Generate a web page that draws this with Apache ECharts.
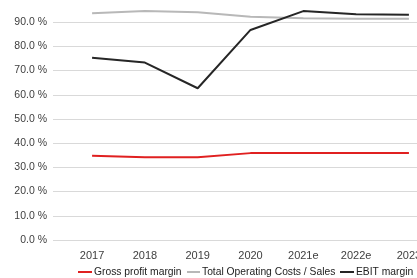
<!DOCTYPE html>
<html>
<head>
<meta charset="utf-8">
<script src="https://cdn.jsdelivr.net/npm/echarts@6/dist/echarts.min.js"></script>
<style>
  html, body { margin: 0; padding: 0; background: #fff; }
  #chart { width: 417px; height: 278px; }
</style>
</head>
<body>
<div id="chart"></div>
<script>
// Chart data
const years = ['2017', '2018', '2019', '2020', '2021e', '2022e', '2023'];
const seriesNames = ['Gross profit margin', 'Total Operating Costs / Sales', 'EBIT margin'];
const grossProfitMargin = [34.8, 34.2, 34.2, 35.9, 36.0, 36.0, 36.0];
const totalOpCostsSales = [93.7, 94.6, 94.1, 92.3, 91.6, 91.4, 91.4];
const ebitMargin = [75.3, 73.3, 62.7, 86.8, 94.6, 93.3, 93.1];

// Pair each value with its category index (x axis is a value axis so the
// plot can start before the first year, as in the original)
function toPoints(values) {
  return values.map((v, i) => [i, v]);
}

const chart = echarts.init(document.getElementById('chart'));
const textColor = '#404040';
const font = '"Liberation Sans", Arial, sans-serif';

// One legend per item so the row never wraps
const legendLeft = [78, 187, 340];
const legendIconWidth = [14, 13, 14];
const legends = seriesNames.map((name, i) => ({
  bottom: 1,
  left: legendLeft[i],
  padding: 0,
  itemWidth: legendIconWidth[i],
  itemHeight: 2,
  icon: 'rect',
  textStyle: { color: '#222', fontSize: 10.3, fontFamily: font, padding: [0, 0, 0, -3] },
  data: [name]
}));

const option = {
  animation: false,
  grid: {
    left: 53,
    top: -2,
    width: 395,
    bottom: 38,
    outerBoundsMode: 'none',
    containLabel: false
  },
  legend: legends,
  xAxis: {
    type: 'value',
    min: -0.74,
    max: 6.74,
    interval: 1,
    axisLine: { show: false },
    axisTick: { show: false },
    splitLine: { show: false },
    axisLabel: {
      color: textColor,
      fontSize: 11,
      fontFamily: font,
      margin: 10,
      customValues: years.map((y, i) => i),
      formatter: v => years[Math.round(v)] || ''
    }
  },
  yAxis: {
    type: 'value',
    min: 0,
    max: 100,
    interval: 10,
    axisLine: { show: false },
    axisTick: { show: false },
    splitLine: { lineStyle: { color: '#d9d9d9', width: 1 } },
    axisLabel: {
      color: textColor,
      fontSize: 10.5,
      fontFamily: font,
      margin: 6,
      showMaxLabel: false,
      formatter: v => v.toFixed(1) + ' %'
    }
  },
  series: [
    {
      name: seriesNames[0],
      type: 'line',
      data: toPoints(grossProfitMargin),
      symbol: 'none',
      lineStyle: { color: '#e02020', width: 2 },
      itemStyle: { color: '#e02020' }
    },
    {
      name: seriesNames[1],
      type: 'line',
      data: toPoints(totalOpCostsSales),
      symbol: 'none',
      lineStyle: { color: '#b8b8b8', width: 2 },
      itemStyle: { color: '#b8b8b8' }
    },
    {
      name: seriesNames[2],
      type: 'line',
      data: toPoints(ebitMargin),
      symbol: 'none',
      lineStyle: { color: '#262626', width: 2 },
      itemStyle: { color: '#262626' }
    }
  ]
};

chart.setOption(option);
</script>
</body>
</html>
